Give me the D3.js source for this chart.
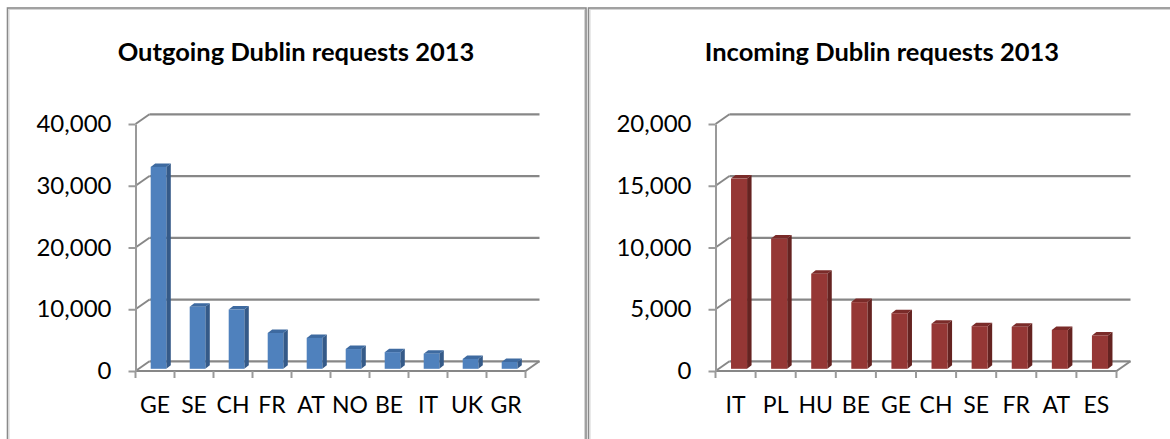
<!DOCTYPE html>
<html><head><meta charset="utf-8">
<script src="https://cdn.jsdelivr.net/npm/d3@7"></script>
<style>body{margin:0;background:#fff} svg{display:block}</style>
</head><body><svg id="c" width="1170" height="439"></svg>
<script>
const outCategories = ["GE","SE","CH","FR","AT","NO","BE","IT","UK","GR"];
const outValues = [32700,10050,9600,5800,5000,3200,2700,2450,1600,1100];
const outTicks = [0,10000,20000,30000,40000];
const inCategories = ["IT","PL","HU","BE","GE","CH","SE","FR","AT","ES"];
const inValues = [15400,10550,7700,5400,4500,3650,3450,3400,3150,2700];
const inTicks = [0,5000,10000,15000,20000];
const titles = ["Outgoing Dublin requests 2013","Incoming Dublin requests 2013"];

const svg = d3.select("#c");
const FONT = "Lato, 'Noto Sans', sans-serif";
const GRID = "#878787";

// panel borders
function panel(x0, y0, x1, y1) {
  svg.append("rect").attr("x", x0).attr("y", y0).attr("width", x1 - x0).attr("height", y1 - y0)
    .attr("fill", "none").attr("stroke", "#8a8a8a").attr("stroke-width", 1.6);
  svg.append("rect").attr("x", x0 + 1.5).attr("y", y0 + 1.5).attr("width", x1 - x0 - 3).attr("height", y1 - y0 - 3)
    .attr("fill", "none").attr("stroke", "#d4d4d4").attr("stroke-width", 1);
}
panel(7.5, 8, 586, 470);
panel(588.5, 8, 1200, 470);

function chart(cfg) {
  const g = svg.append("g");
  const x = d3.scaleBand().domain(cfg.categories).range([cfg.x0, cfg.x1]);
  const y = d3.scaleLinear().domain([0, cfg.ticks[cfg.ticks.length - 1]]).range([371, 124]);
  const DX = 14, DY = -9.7;
  const bw = x.bandwidth();

  g.append("text").attr("x", cfg.titleX).attr("y", 61).attr("text-anchor", "middle")
    .attr("font-family", FONT).attr("font-weight", "bold").attr("font-size", 25.5)
    .attr("fill", "#000").text(cfg.title);

  // back wall gridlines
  g.selectAll(".grid").data(cfg.ticks).join("line")
    .attr("x1", cfg.x0 + DX).attr("x2", cfg.x1 + DX)
    .attr("y1", d => y(d) + DY).attr("y2", d => y(d) + DY)
    .attr("stroke", GRID).attr("stroke-width", 2.2);
  // side wall diagonals
  g.selectAll(".diag").data(cfg.ticks).join("line")
    .attr("x1", cfg.x0).attr("x2", cfg.x0 + DX)
    .attr("y1", d => y(d)).attr("y2", d => y(d) + DY)
    .attr("stroke", GRID).attr("stroke-width", 2);
  // floor front & right edges
  g.append("path")
    .attr("d", `M${cfg.x0},${y(0)}L${cfg.x1},${y(0)}L${cfg.x1 + DX},${y(0) + DY}`)
    .attr("fill", "none").attr("stroke", GRID).attr("stroke-width", 2);

  // category ticks at band boundaries
  const bounds = cfg.categories.map(c => x(c)).concat([cfg.x1]);
  g.selectAll(".ctick").data(bounds).join("line")
    .attr("x1", d => d).attr("x2", d => d).attr("y1", y(0)).attr("y2", y(0) + 7)
    .attr("stroke", "#9a9a9a").attr("stroke-width", 2);

  // y axis
  const ya = g.append("g").attr("transform", `translate(${cfg.x0},0)`)
    .call(d3.axisLeft(y).tickValues(cfg.ticks).tickSize(7).tickSizeOuter(0).tickPadding(17).tickFormat(d3.format(",")));
  ya.select(".domain").attr("stroke", "#9a9a9a").attr("stroke-width", 2);
  ya.selectAll(".tick line").attr("stroke", "#9a9a9a").attr("stroke-width", 2);
  ya.selectAll("text").attr("font-family", FONT).attr("font-size", 24).attr("fill", "#000");

  // x axis labels
  const xa = g.append("g").attr("transform", `translate(0,${y(0)})`)
    .call(d3.axisBottom(x).tickSize(0).tickPadding(25.5));
  xa.select(".domain").remove();
  xa.selectAll("text").attr("font-family", FONT).attr("font-size", 23).attr("fill", "#000");

  // bars
  const SY = -2.2, BDX = 4.5, BDY = -3.5;
  const bars = g.selectAll(".bar").data(cfg.values.map((v, i) => ({c: cfg.categories[i], v}))).join("g");
  const fx = d => x(d.c) + bw * 0.3 + 3.5;
  const fw = bw * 0.4;
  const top = d => y(d.v) + SY;
  const bot = y(0) + SY;
  bars.append("path").attr("fill", cfg.side)
    .attr("d", d => `M${fx(d) + fw},${top(d)}L${fx(d) + fw + BDX},${top(d) + BDY}L${fx(d) + fw + BDX},${bot + BDY}L${fx(d) + fw},${bot}Z`);
  bars.append("path").attr("fill", cfg.topc)
    .attr("d", d => `M${fx(d)},${top(d)}L${fx(d) + BDX},${top(d) + BDY}L${fx(d) + fw + BDX},${top(d) + BDY}L${fx(d) + fw},${top(d)}Z`);
  bars.append("rect").attr("fill", cfg.front)
    .attr("x", fx).attr("y", top).attr("width", fw).attr("height", d => bot - top(d));
}

chart({categories: outCategories, values: outValues, ticks: outTicks, title: titles[0],
  x0: 135.5, x1: 525.5, titleX: 296, front: "#4F81BD", side: "#355A88", topc: "#3E6AA0"});
chart({categories: inCategories, values: inValues, ticks: inTicks, title: titles[1],
  x0: 715.5, x1: 1116.5, titleX: 882, front: "#953735", side: "#652321", topc: "#7A2B29"});
</script></body></html>
